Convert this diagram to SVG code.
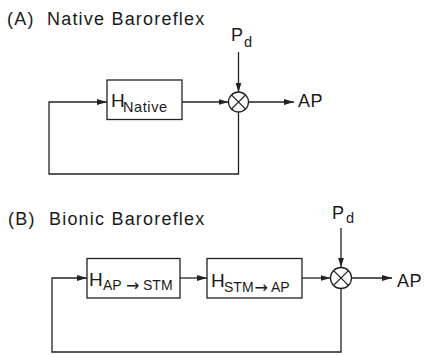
<svg xmlns="http://www.w3.org/2000/svg" width="424" height="355" viewBox="0 0 424 355">
<defs>
<style>
.ln{fill:none;stroke:#222;stroke-width:1.3}
.bx{fill:#fff;stroke:#222;stroke-width:1.3}
.t{font-family:"Liberation Sans",Arial,sans-serif;fill:#1a1a1a}
.title{font-size:18px;letter-spacing:1.2px}
.big{font-size:18px}
.h{font-size:19px}
.sub{font-size:14.5px;letter-spacing:0.6px}
.sub2{font-size:14px;letter-spacing:0}
.arr{font-family:"DejaVu Sans",sans-serif;font-size:16px}
</style>
<marker id="ah" viewBox="0 0 10 6" refX="10" refY="3" markerWidth="10" markerHeight="6" markerUnits="userSpaceOnUse" orient="auto">
<path d="M0,0 L10,3 L0,6 z" fill="#222"/>
</marker>
</defs>
<rect width="424" height="355" fill="#fff"/>

<text class="t title" x="7" y="25">(A)<tspan x="47">Native Baroreflex</tspan></text>
<text class="t title" x="8" y="225">(B)<tspan x="49">Bionic Baroreflex</tspan></text>

<g id="connectors">
<path class="ln" d="M238.5,112.5 V174 H49 V102 H107" marker-end="url(#ah)"/>
<path class="ln" d="M182,102 H228.5" marker-end="url(#ah)"/>
<path class="ln" d="M238.5,52 V92.5" marker-end="url(#ah)"/>
<path class="ln" d="M248.5,102 H294" marker-end="url(#ah)"/>

<path class="ln" d="M341,288.5 V352 H52 V278 H87" marker-end="url(#ah)"/>
<path class="ln" d="M180,278 H207" marker-end="url(#ah)"/>
<path class="ln" d="M302,278 H330.5" marker-end="url(#ah)"/>
<path class="ln" d="M341,228 V267.5" marker-end="url(#ah)"/>
<path class="ln" d="M351.5,278 H392" marker-end="url(#ah)"/>
</g>

<g id="H_native">
<rect class="bx" x="107" y="80" width="75" height="39.5"/>
<text class="t h" x="111" y="107">H<tspan class="sub" x="123" y="112">Native</tspan></text>
</g>
<g id="sum_A">
<circle class="bx" cx="238.5" cy="102" r="10"/>
<path class="ln" d="M231.4,94.9 L245.6,109.1 M245.6,94.9 L231.4,109.1"/>
</g>
<g id="Pd_A"><text class="t big" x="231" y="41">P<tspan class="sub" x="244" y="47">d</tspan></text></g>
<g id="AP_A"><text class="t big" x="298" y="107" letter-spacing="0.5">AP</text></g>

<g id="H_AP_STM">
<rect class="bx" x="87" y="258.5" width="93" height="39.5"/>
<text class="t h" x="89" y="285.5">H<tspan class="sub2" x="103" y="289.5">AP</tspan><tspan class="arr" x="126" y="291">→</tspan><tspan class="sub2" x="143" y="289.5">STM</tspan></text>
</g>
<g id="H_STM_AP">
<rect class="bx" x="207" y="258.5" width="95" height="39.5"/>
<text class="t h" x="211" y="287">H<tspan class="sub2" x="224" y="292">STM</tspan><tspan class="arr" x="254.5" y="293">→</tspan><tspan class="sub2" x="271" y="292">AP</tspan></text>
</g>
<g id="sum_B">
<circle class="bx" cx="341" cy="278" r="10.5"/>
<path class="ln" d="M333.6,270.6 L348.4,285.4 M348.4,270.6 L333.6,285.4"/>
</g>
<g id="Pd_B"><text class="t big" x="332" y="219">P<tspan class="sub" x="346" y="223">d</tspan></text></g>
<g id="AP_B"><text class="t big" x="397" y="287" letter-spacing="0.5">AP</text></g>
</svg>
